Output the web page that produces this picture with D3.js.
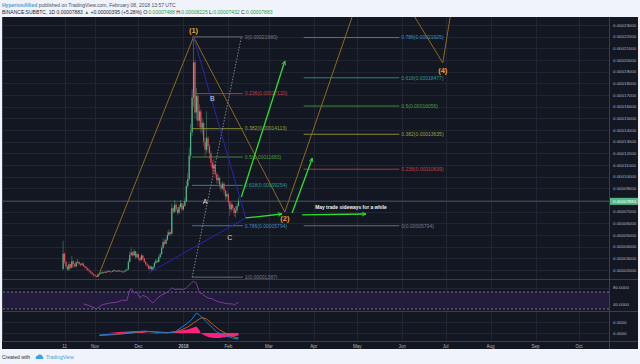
<!DOCTYPE html>
<html><head><meta charset="utf-8">
<script src="https://cdn.jsdelivr.net/npm/d3@7"></script>
<style>
html,body{margin:0;padding:0;background:#f0f3fa;}
svg{display:block;font-family:"Liberation Sans",Arial,sans-serif;}
</style></head><body>
<svg id="c" width="640" height="364"></svg>
<script>
// ---------------- DATA ----------------
const firstCandle = "2017-10-10";
const firstOpen = 2100; // satoshi
const closes = [3400,2700,2300,2050,2500,2200,2750,2500,2300,2650,2700,2500,2450,2550,2350,2250,2150,2000,1900,1800,1650,1550,
 1480,1430,1600,1700,1750,1800,1760,1850,1820,1900,1870,1840,1900,1960,1920,1880,1950,1920,1860,1820,1880,1960,2050,2700,3300,3500,3250,3600,3100,3350,
 3000,2850,3250,3000,2700,2500,2400,2100,2300,2050,2250,2600,2800,2700,3100,3350,3900,4400,4250,4600,5000,5250,5100,7300,7000,7600,7200,6900,7400,7700,7200,
 7500,7900,9200,9800,11800,13800,16800,19800,15500,16900,14800,15600,14200,14600,13000,12300,13300,12600,12000,11200,10700,11000,10200,9700,9900,9300,9000,9400,8800,8300,8500,
 7800,7200,7600,7300,6900,7100,7488,7883];
const highs = [4500,3500,2800,2400,2700,2550,3200,2850,2600,2800,2950,2750,2600,2650,2600,2400,2300,2200,2050,1950,1850,1700,
 1650,1550,1700,1780,1850,1900,1850,1920,1900,1980,1950,1900,1960,2050,2000,1950,2020,1990,1950,1900,1940,2030,2150,2900,3600,3950,3600,3800,3650,3500,
 3400,3100,3400,3300,3050,2750,2600,2450,2400,2350,2350,2700,2950,2900,3250,3500,4100,4700,4600,4800,5300,5500,5400,7700,7500,8000,7800,7400,7600,8000,7800,
 7700,8200,9600,10300,12500,14500,17500,21980,20000,17600,17100,16200,15800,15000,14800,13400,15600,13500,12800,12200,11400,11500,11100,10400,10200,10000,9500,9600,9500,8900,8800,
 8600,7900,7800,7700,7400,7500,7700,8225];
const lows = [2000,2500,2100,1900,1950,2050,2150,2300,2200,2250,2550,2400,2300,2350,2250,2100,2000,1900,1750,1650,1550,1450,
 1400,1387,1400,1550,1650,1700,1680,1740,1760,1800,1820,1780,1820,1880,1860,1830,1860,1870,1820,1780,1800,1860,1940,2000,2650,3200,3100,3200,2950,3000,
 2850,2700,2800,2850,2600,2350,2250,2000,2050,1950,2000,2200,2500,2600,2650,3000,3300,3800,4100,4200,4500,4900,4950,5050,6800,6900,7000,6700,6800,7300,7000,
 7100,7400,7800,9000,9600,11500,13500,16000,15000,14800,14300,14200,13800,13600,12600,11700,12000,12100,11500,10800,10200,10400,9900,9400,9400,9000,8700,8900,8500,8000,8100,
 7500,6600,7000,7100,6600,6500,6900,7432];
const lastClose = 7883;

const priceTicks = [2000,3000,4000,5000,6000,7000,8000,9000,10000,11000,12000,13000,14000,15000,16000,17000,18000,19000,20000,21000,22000,23000];
const timeTickDates = ["2017-10-11","2017-11-01","2017-12-01","2018-01-01","2018-02-01","2018-03-01","2018-04-01","2018-05-01","2018-06-01","2018-07-01","2018-08-01","2018-09-01","2018-10-01"];
const timeTickLabels = ["11","Nov","Dec","2018","Feb","Mar","Apr","May","Jun","Jul","Aug","Sep","Oct"];

// Elliott wave (gold)
const waveDates = ["2017-11-03","2018-01-08","2018-03-12","2018-05-13","2018-06-29","2018-07-09"];
const wavePrices = [1387,21980,6970,29300,19750,27500];
const waveLabels = ["","(1)","(2)","","(4)",""];

// Fib retracement
const retrDates = ["2018-01-07","2018-02-10"];
const retrLevels = [0,0.236,0.382,0.5,0.618,0.786,1];
const retrPrices = [21980,17120,14113,11683,9254,5794,1387];

// Trend-based fib extension
const extDates = ["2018-03-25","2018-05-30"];
const extLevels = [0,0.236,0.382,0.5,0.618,0.786];
const extPrices = [5794,10639,13635,16056,18477,21925];

// ABC (blue) lines and labels
const abcLineDates = ["2017-12-08","2018-02-13","2018-01-08"];
const abcLinePrices = [1746,6460,21980];
const abcLabels = ["A","B","C"];
const abcLabelDates = ["2018-01-16","2018-01-21","2018-02-02"];
const abcLabelPrices = [7831,16658,4746];

// green arrows
const arrowFromDates = ["2018-02-10","2018-02-13","2018-03-17","2018-03-24"];
const arrowFromPrices = [8260,6460,6890,6720];
const arrowToDates = ["2018-03-12","2018-03-10","2018-03-31","2018-05-07"];
const arrowToPrices = [19915,6800,11600,6800];

const noteText = "May trade sideways for a while";
const noteDate = "2018-04-02";
const notePrice = 7400;

// RSI
const rsiDates = ["2017-10-24","2017-10-28","2017-11-02","2017-11-06","2017-11-11","2017-11-16","2017-11-20","2017-11-23","2017-11-25","2017-11-26","2017-11-28","2017-11-30",
 "2017-12-02","2017-12-04","2017-12-07","2017-12-09","2017-12-11","2017-12-13","2017-12-15","2017-12-17","2017-12-20","2017-12-22","2017-12-24","2017-12-26","2017-12-29",
 "2018-01-01","2018-01-03","2018-01-05","2018-01-07","2018-01-08","2018-01-10","2018-01-12","2018-01-14","2018-01-16","2018-01-18","2018-01-21","2018-01-23","2018-01-26",
 "2018-01-28","2018-01-30","2018-02-02","2018-02-04","2018-02-05","2018-02-07","2018-02-08"];
const rsiValues = [42,38,30,40,44,46,51,50,75,78,68,70,56,62,58,50,44,52,58,63,68,72,80,76,77,76,79,86,93,95,91,68,66,60,56,54,50,46,45,43,42,42,39,44,45];
const rsiTicks = [80,40];

// MACD (units of 1e-7)
const macdDates = ["2017-11-04","2017-11-15","2017-11-26","2017-12-05","2017-12-12","2017-12-20","2017-12-26","2017-12-31","2018-01-04","2018-01-07","2018-01-10","2018-01-12","2018-01-17","2018-01-24","2018-01-31","2018-02-04","2018-02-08"];
const macdValues = [-2,-1,0.5,2,1,0,1,6,10,14,20,18,11,1,-3,-5,-6];
const signalDates = ["2017-11-04","2017-11-15","2017-11-26","2017-12-05","2017-12-12","2017-12-20","2017-12-26","2017-12-31","2018-01-04","2018-01-08","2018-01-12","2018-01-14","2018-01-17","2018-01-21","2018-01-26","2018-01-31","2018-02-04","2018-02-08"];
const signalValues = [-2.5,-1.5,0,1.5,1.2,0.5,0.5,3.5,6,10,14,15.5,14,9,3,-1,-3.5,-5];
const histDates = ["2017-11-10","2017-11-18","2017-11-24","2017-11-28","2017-12-03","2017-12-08","2017-12-14","2017-12-20","2017-12-24","2017-12-28","2018-01-01","2018-01-04","2018-01-07","2018-01-10","2018-01-12","2018-01-13","2018-01-15","2018-01-18","2018-01-22","2018-01-26","2018-01-30","2018-02-03","2018-02-06","2018-02-08"];
const histValues = [0,1,1.5,2,1.2,0,-0.5,0.5,1.5,2,3,3.5,5,6.5,3,0,-2,-4,-5,-5,-4,-3.5,-3,-2.5];
const macdTicks = [11,0];

// ---------------- CHART ----------------
const svg = d3.select("#c");
const parse = d3.utcParse("%Y-%m-%d");
const L = 3, R = 609;
const mainTop = 17, mainBot = 279, rsiTop = 279, rsiBot = 311, macdTop = 311, macdBot = 341;

const x = d3.scaleUtc().domain([parse("2017-11-01"), parse("2018-10-01")]).range([95, 579]);
const y = d3.scaleLinear().domain([2000, 23000]).range([270, 25]);
const yr = d3.scaleLinear().domain([30, 70]).range([309, 292]);
const ym = d3.scaleLinear().domain([0, 11]).range([333, 322]);

const levelColor = {"0":"#787b86","0.236":"#c2404a","0.382":"#9aa33a","0.5":"#4a9e3e","0.618":"#2a9d8f","0.786":"#3f8cc4","1":"#787b86"};
const waveColor = "#8c6b1f", waveLabelColor = "#e0a526";
const green = "#2fe02f";

svg.append("rect").attr("width",640).attr("height",364).attr("fill","#f0f3fa");
svg.append("rect").attr("x",2).attr("y",17).attr("width",636).attr("height",332).attr("fill","#131722");

const defs = svg.append("defs");
[["cMain",mainTop,mainBot],["cRsi",rsiTop,rsiBot],["cMacd",macdTop,macdBot]].forEach(([id,t,b])=>{
  defs.append("clipPath").attr("id",id).append("rect").attr("x",L).attr("y",t).attr("width",R-L).attr("height",b-t);
});
defs.append("marker").attr("id","arr").attr("viewBox","0 0 10 10").attr("refX",9).attr("refY",5)
  .attr("markerWidth",5).attr("markerHeight",5).attr("markerUnits","userSpaceOnUse").attr("orient","auto")
  .append("path").attr("d","M1,1 L9,5 L1,9").attr("fill","none").attr("stroke",green).attr("stroke-width",1.6);

// grid
const grid = svg.append("g").attr("stroke","#222633").attr("stroke-width",1);
timeTickDates.forEach(d=>{ const xx=Math.round(x(parse(d)))+0.5; grid.append("line").attr("x1",xx).attr("x2",xx).attr("y1",mainTop).attr("y2",macdBot); });
priceTicks.forEach(p=>{ const yy=Math.round(y(p))+0.5; grid.append("line").attr("x1",L).attr("x2",R).attr("y1",yy).attr("y2",yy); });
rsiTicks.forEach(v=>{ const yy=Math.round(yr(v))+0.5; grid.append("line").attr("x1",L).attr("x2",R).attr("y1",yy).attr("y2",yy); });
macdTicks.forEach(v=>{ const yy=Math.round(ym(v))+0.5; grid.append("line").attr("x1",L).attr("x2",R).attr("y1",yy).attr("y2",yy); });

// RSI band
svg.append("rect").attr("x",L).attr("width",R-L).attr("y",yr(70)).attr("height",yr(30)-yr(70)).attr("fill","#241b3d").attr("opacity",0.95);
[70,30].forEach(v=>svg.append("line").attr("x1",L).attr("x2",R).attr("y1",yr(v)).attr("y2",yr(v))
  .attr("stroke","#8c8fa0").attr("stroke-dasharray","2,2").attr("stroke-width",0.8));

// pane separators
const sep = svg.append("g").attr("stroke","#3a3e4b").attr("stroke-width",1);
[mainBot,rsiBot,macdBot].forEach(v=>sep.append("line").attr("x1",L).attr("x2",638).attr("y1",v+0.5).attr("y2",v+0.5));
sep.append("line").attr("x1",R+0.5).attr("x2",R+0.5).attr("y1",17).attr("y2",349);
sep.append("line").attr("x1",L-0.5).attr("x2",L-0.5).attr("y1",17).attr("y2",macdBot);

// main pane
const main = svg.append("g").attr("clip-path","url(#cMain)");
main.append("line").attr("x1",L).attr("x2",R).attr("y1",y(lastClose)).attr("y2",y(lastClose)).attr("stroke","#3d7a6a").attr("stroke-width",0.8).attr("opacity",0.8);

// candles
const start = parse(firstCandle);
const candles = closes.map((c,i)=>({d:d3.utcDay.offset(start,i), o: i===0?firstOpen:closes[i-1], c, h:highs[i], l:lows[i]}));
const upC = "#53b987", dnC = "#eb4d5c";
const cg = main.append("g");
cg.selectAll("line.w").data(candles).join("line").attr("class","w")
  .attr("x1",d=>x(d.d)).attr("x2",d=>x(d.d)).attr("y1",d=>y(d.h)).attr("y2",d=>y(d.l))
  .attr("stroke",d=>d.c>=d.o?upC:dnC).attr("stroke-width",0.6).attr("opacity",0.75);
cg.selectAll("rect").data(candles).join("rect")
  .attr("x",d=>x(d.d)-0.6).attr("width",1.2)
  .attr("y",d=>y(Math.max(d.o,d.c))).attr("height",d=>Math.max(0.8,Math.abs(y(d.o)-y(d.c))))
  .attr("fill",d=>d.c>=d.o?upC:dnC);

// fib retracement
const rx1 = x(parse(retrDates[0])), rx2 = x(parse(retrDates[1]));
retrLevels.forEach((lv,i)=>{
  const col = levelColor[String(lv)];
  main.append("line").attr("x1",rx1).attr("x2",rx2+1.5).attr("y1",y(retrPrices[i])).attr("y2",y(retrPrices[i])).attr("stroke",col).attr("stroke-width",1).attr("opacity",0.85);
  main.append("text").attr("x",rx2+3.5).attr("y",y(retrPrices[i])+1.8).attr("font-size",5).attr("fill",col)
    .text(`${lv}(${(retrPrices[i]*1e-8).toFixed(8)})`);
});
main.append("line").attr("x1",rx1).attr("y1",y(retrPrices[6])).attr("x2",rx2).attr("y2",y(retrPrices[0]))
  .attr("stroke","#8a8d96").attr("stroke-width",0.9).attr("stroke-dasharray","1.5,1.5");

// fib extension
const ex1 = x(parse(extDates[0])), ex2 = x(parse(extDates[1]));
extLevels.forEach((lv,i)=>{
  const col = levelColor[String(lv)];
  main.append("line").attr("x1",ex1).attr("x2",ex2).attr("y1",y(extPrices[i])).attr("y2",y(extPrices[i])).attr("stroke",col).attr("stroke-width",1).attr("opacity",0.85);
  main.append("text").attr("x",ex2+2).attr("y",y(extPrices[i])+1.8).attr("font-size",5).attr("fill",col)
    .text(`${lv}(${(extPrices[i]*1e-8).toFixed(8)})`);
});

// wave
const wavePts = waveDates.map((d,i)=>[x(parse(d)), y(wavePrices[i])]);
main.append("path").attr("d",d3.line()(wavePts)).attr("fill","none").attr("stroke",waveColor).attr("stroke-width",1);

// ABC blue lines
const abcPts = abcLineDates.map((d,i)=>[x(parse(d)), y(abcLinePrices[i])]);
main.append("path").attr("d",d3.line()(abcPts)).attr("fill","none").attr("stroke","#2626b0").attr("stroke-width",1);

// arrows
arrowFromDates.forEach((d,i)=>{
  main.append("line").attr("x1",x(parse(d))).attr("y1",y(arrowFromPrices[i]))
    .attr("x2",x(parse(arrowToDates[i]))).attr("y2",y(arrowToPrices[i]))
    .attr("stroke",green).attr("stroke-width",1.3).attr("marker-end","url(#arr)");
});

// wave labels
waveLabels.forEach((t,i)=>{
  if(!t) return;
  const dy = t==="(1)" ? -3.5 : (t==="(2)" ? 8.8 : 10.5);
  main.append("text").attr("x",wavePts[i][0]).attr("y",wavePts[i][1]+dy).attr("text-anchor","middle")
    .attr("font-size",7.5).attr("font-weight","bold").attr("fill",waveLabelColor).text(t);
});
// ABC labels
abcLabels.forEach((t,i)=>{
  main.append("text").attr("x",x(parse(abcLabelDates[i]))).attr("y",y(abcLabelPrices[i])+2.5).attr("text-anchor","middle")
    .attr("font-size",7).attr("fill","#d8dae0").text(t);
});
// note
main.append("text").attr("x",x(parse(noteDate))).attr("y",y(notePrice)+1.8).attr("font-size",4.9).attr("font-weight","bold")
  .attr("fill","#f2f2f2").text(noteText);

// RSI line
const rsiG = svg.append("g").attr("clip-path","url(#cRsi)");
rsiG.append("path").attr("d",d3.line().x((d,i)=>x(parse(rsiDates[i]))).y(d=>yr(d))(rsiValues))
  .attr("fill","none").attr("stroke","#7b3b9e").attr("stroke-width",1);

// MACD
const mG = svg.append("g").attr("clip-path","url(#cMacd)");
mG.append("path").attr("d",d3.area().x((d,i)=>x(parse(histDates[i]))).y0(ym(0)).y1(d=>ym(d))(histValues))
  .attr("fill","#ff1f7e");
mG.append("path").attr("d",d3.line().x((d,i)=>x(parse(signalDates[i]))).y(d=>ym(d))(signalValues))
  .attr("fill","none").attr("stroke","#b8621f").attr("stroke-width",1);
mG.append("path").attr("d",d3.line().x((d,i)=>x(parse(macdDates[i]))).y(d=>ym(d))(macdValues))
  .attr("fill","none").attr("stroke","#1f7ad6").attr("stroke-width",1);

// axes labels
const axCol = "#b2b5be";
const pa = svg.append("g").attr("font-size",4.4).attr("fill",axCol);
priceTicks.forEach(p=>pa.append("text").attr("x",613).attr("y",y(p)+1.6).text((p*1e-8).toFixed(8)));
rsiTicks.forEach(v=>pa.append("text").attr("x",613).attr("y",yr(v)+1.6).text(v.toFixed(4)));
macdTicks.forEach(v=>pa.append("text").attr("x",613).attr("y",ym(v)+1.6).text("0.0000"));
svg.append("rect").attr("x",610).attr("y",y(lastClose)-3.5).attr("width",28).attr("height",7).attr("fill","#53b987");
svg.append("text").attr("x",613).attr("y",y(lastClose)+1.6).attr("font-size",4.4).attr("fill","#ffffff").text((lastClose*1e-8).toFixed(8));

const ta = svg.append("g").attr("font-size",4.5).attr("fill",axCol).attr("text-anchor","middle");
timeTickDates.forEach((d,i)=>ta.append("text").attr("x",x(parse(d))).attr("y",347.5)
  .attr("font-weight",timeTickLabels[i]==="2018"?"bold":"normal").text(timeTickLabels[i]));

// header
const h1 = svg.append("text").attr("x",2).attr("y",7).attr("font-size",5);
h1.append("tspan").attr("fill","#3aa4dc").attr("font-weight","bold").text("HyperionAllied");
h1.append("tspan").attr("fill","#4a4e58").text(" published on TradingView.com, February 08, 2018 13:57 UTC");
const h2 = svg.append("text").attr("x",2).attr("y",14).attr("font-size",5).attr("fill","#1e2230");
h2.append("tspan").text("BINANCE:SUBBTC, 1D  0.00007883 ");
h2.append("tspan").attr("fill","#22a33a").text("▲");
h2.append("tspan").text(" +0.00000395 (+5.28%) O:");
h2.append("tspan").attr("fill","#22a33a").text("0.00007488");
h2.append("tspan").text(" H:");
h2.append("tspan").attr("fill","#22a33a").text("0.00008225");
h2.append("tspan").text(" L:");
h2.append("tspan").attr("fill","#22a33a").text("0.00007432");
h2.append("tspan").text(" C:");
h2.append("tspan").attr("fill","#22a33a").text("0.00007883");

// footer
svg.append("text").attr("x",2).attr("y",359).attr("font-size",5).attr("fill","#2a2e39").text("Created with");
svg.append("path").attr("d","M36,359 a2,2 0 0 1 1.5,-3.2 a2.8,2.8 0 0 1 5,0.6 a1.6,1.6 0 0 1 0.5,2.6 z").attr("fill","#3aa4dc");
svg.append("text").attr("x",46).attr("y",359).attr("font-size",5).attr("fill","#3aa4dc").text("TradingView");
</script></body></html>
